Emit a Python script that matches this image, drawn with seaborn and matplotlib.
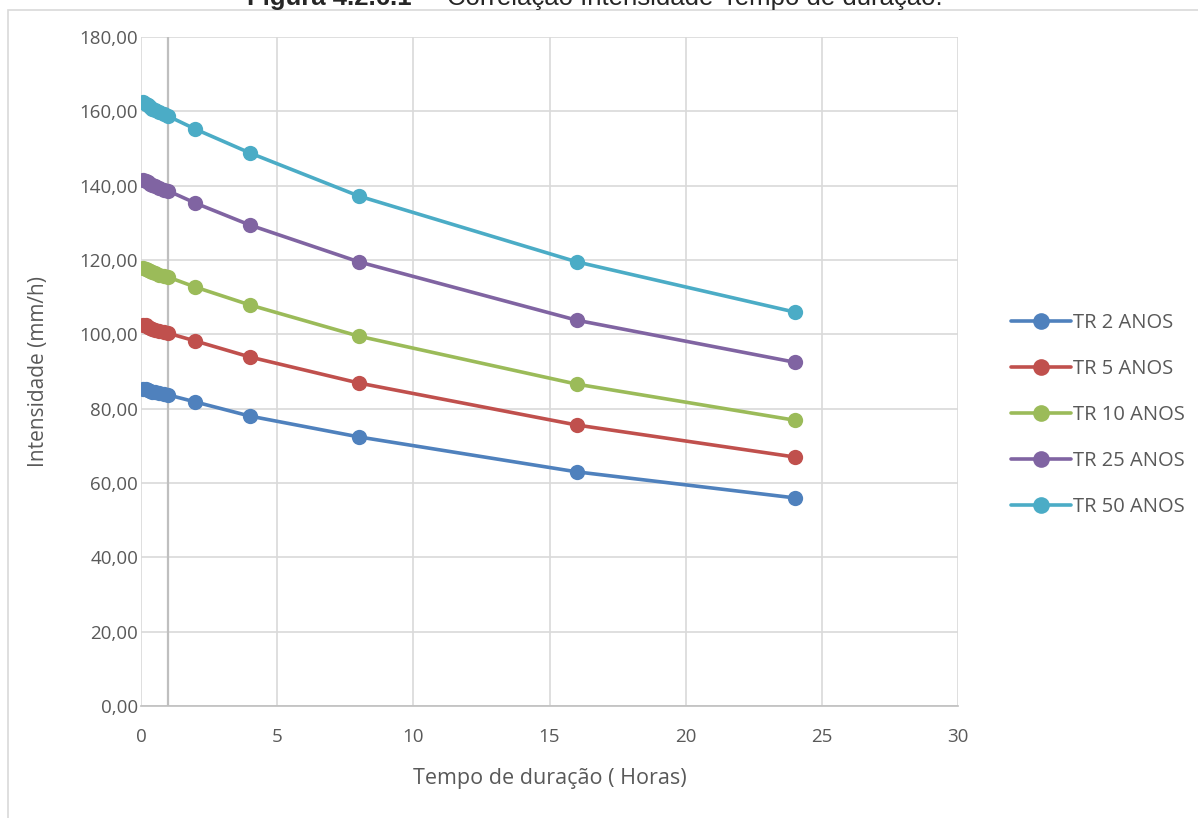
import matplotlib
matplotlib.use("Agg")
import matplotlib.pyplot as plt
import matplotlib.ticker as mticker
from matplotlib.patches import Rectangle
import numpy as np
import pandas as pd
import seaborn as sns

# durations (hours)
durations = [0.083, 0.167, 0.25, 0.333, 0.417, 0.5, 0.667, 0.833, 1.0, 2.0, 4.0, 8.0, 16.0, 24.0]

tr_2 = [85.4, 85.2, 85.0, 84.8, 84.6, 84.4, 84.1, 83.9, 83.7, 81.8, 78.0, 72.4, 63.0, 56.0]
tr_5 = [102.6, 102.4, 102.1, 101.8, 101.5, 101.3, 100.9, 100.6, 100.3, 98.2, 93.9, 86.9, 75.6, 67.0]
tr_10 = [117.9, 117.6, 117.3, 117.0, 116.7, 116.4, 116.0, 115.7, 115.4, 112.7, 107.9, 99.5, 86.6, 76.9]
tr_25 = [141.6, 141.3, 140.9, 140.5, 140.2, 139.8, 139.3, 138.9, 138.6, 135.3, 129.4, 119.5, 103.8, 92.5]
tr_50 = [162.4, 162.0, 161.6, 161.1, 160.7, 160.3, 159.7, 159.2, 158.7, 155.2, 148.8, 137.2, 119.5, 106.0]

series_names = ["TR 2 ANOS", "TR 5 ANOS", "TR 10 ANOS", "TR 25 ANOS", "TR 50 ANOS"]
series_values = [tr_2, tr_5, tr_10, tr_25, tr_50]
colors = ["#4f81bd", "#c0504d", "#9bbb59", "#8064a2", "#4bacc6"]

df = pd.concat(
    [pd.DataFrame({"duracao": durations, "intensidade": vals, "serie": name})
     for name, vals in zip(series_names, series_values)],
    ignore_index=True,
)

sns.set_style("white")
plt.rcParams["font.family"] = ["Open Sans", "DejaVu Sans"]

fig = plt.figure(figsize=(11.98, 8.18), dpi=100)
ax = fig.add_axes([141 / 1198, 1 - 706 / 818, (958 - 141) / 1198, (706 - 37) / 818])

sns.lineplot(
    data=df, x="duracao", y="intensidade", hue="serie",
    palette=dict(zip(series_names, colors)), hue_order=series_names,
    marker="o", markersize=11, markeredgewidth=0, linewidth=2.6,
    ax=ax, legend=False, zorder=3,
)

ax.set_xlim(0, 30)
ax.set_ylim(0, 180)
ax.set_xticks(np.arange(0, 31, 5))
ax.set_yticks(np.arange(0, 181, 20))
ax.yaxis.set_major_formatter(mticker.FuncFormatter(lambda v, p: f"{v:.2f}".replace(".", ",")))
ax.grid(True, color="#d9d9d9", linewidth=1.2)
ax.axvline(1, color="#bfbfbf", linewidth=1.6, zorder=1)
for side in ["top", "right", "left"]:
    ax.spines[side].set_visible(False)
ax.spines["bottom"].set_color("#bfbfbf")
ax.spines["bottom"].set_linewidth(1.2)
ax.tick_params(axis="both", length=0, labelsize=13.5, labelcolor="#595959")
ax.tick_params(axis="x", pad=16)
ax.tick_params(axis="y", pad=2)

ax.set_xlabel("Tempo de duração ( Horas)", fontsize=15.5, color="#595959", labelpad=16)
ax.set_ylabel("Intensidade (mm/h)", fontsize=15, color="#595959", labelpad=22)

handles = [
    plt.Line2D([], [], color=c, marker="o", markersize=12, markeredgewidth=0, linewidth=2.6)
    for c in colors
]
fig.legend(
    handles, series_names, loc="center left", bbox_to_anchor=(1003 / 1198, 1 - 415 / 818),
    frameon=False, fontsize=14.5, labelcolor="#595959", handlelength=3.0,
    handletextpad=0.1, labelspacing=1.3, borderaxespad=0,
)

# outer chart border
fig.patches.append(Rectangle((8 / 1198, -0.05), 1.2, 1.05 - 10 / 818,
                             transform=fig.transFigure, fill=False,
                             edgecolor="#d9d9d9", linewidth=1.2))

# title (cut off at the top edge in the source)
fig.text(433 / 1198, 1 - 5 / 818, "Figura 4.2.6.1 –", ha="right", va="baseline",
         fontsize=18.5, fontweight="bold", family=["Liberation Sans", "DejaVu Sans"])
fig.text(447 / 1198, 1 - 5 / 818, "Correlação Intensidade-Tempo de duração.", ha="left",
         va="baseline", fontsize=18.5, family=["Liberation Sans", "DejaVu Sans"])

fig.savefig("out.png", dpi=100)
